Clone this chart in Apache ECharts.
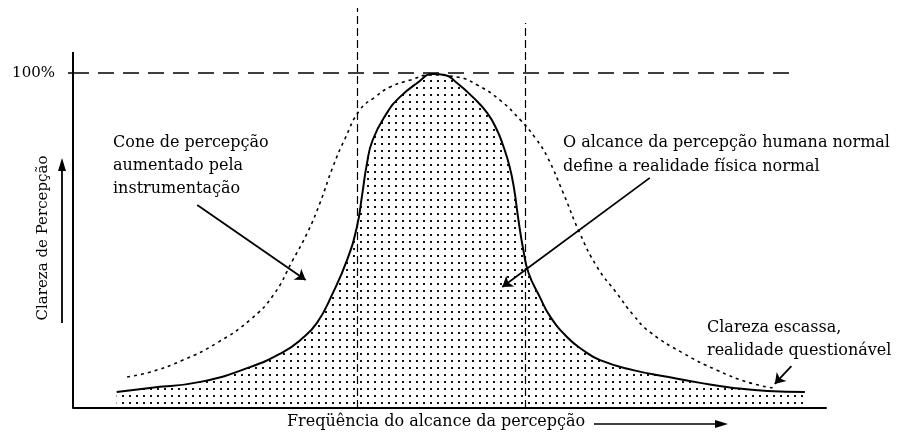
<!DOCTYPE html>
<html>
<head>
<meta charset="utf-8">
<script src="https://cdn.jsdelivr.net/npm/echarts@6/dist/echarts.min.js"></script>
<style>
html, body { margin: 0; padding: 0; background: #fff; }
#chart { width: 904px; height: 440px; }
</style>
</head>
<body>
<div id="chart"></div>
<script>
// curva sólida: alcance da percepção humana normal
const normalX = [5.8, 10.2, 16.9, 23.5, 27.9, 30.2, 32.4, 34.5, 36.4, 37.7, 38.4, 39.0, 39.8, 41.7, 43.4, 45.7, 47.8, 49.4, 51.0, 53.1,
    55.0, 56.3, 57.1, 58.0, 58.6, 59.1, 59.8, 60.5, 62.0, 63.4, 65.6, 67.7, 70.0, 74.4, 78.9, 83.3, 87.7, 92.2, 97.2];
const normalY = [4.8, 6.0, 7.8, 12.2, 16.7, 20.3, 25.4, 34.3, 44.2, 54.0, 63.6, 72.5, 80.0, 88.1, 92.8, 97.0, 99.7, 99.4, 97.0, 92.8,
    88.1, 83.0, 78.5, 71.9, 65.1, 57.0, 47.2, 40.3, 33.1, 27.2, 21.2, 17.3, 14.3, 11.3, 9.3, 7.5, 6.0, 5.1, 4.8];

// curva tracejada: cone aumentado pela instrumentação
const instrX = [7.2, 10.2, 14.6, 19.1, 23.5, 26.6, 29.2, 31.1, 32.8, 34.5, 36.1, 38.1, 40.1, 42.1, 44.8, 47.4, 51.0, 53.7, 56.7, 59.4,
    61.4, 63.0, 65.1, 67.3, 69.6, 72.2, 74.4, 76.6, 81.0, 85.5, 89.9, 93.0];
const instrY = [9.3, 10.7, 14.3, 19.4, 26.3, 33.7, 44.2, 52.2, 61.2, 71.9, 80.3, 89.0, 92.8, 95.8, 97.9, 99.4, 98.8, 96.4, 91.9, 86.0,
    80.6, 74.9, 64.2, 52.2, 42.1, 34.3, 27.8, 22.7, 16.4, 11.3, 7.5, 6.0];

// linhas de referência
const limitesX = [37.8, 60.0];
const limitesTopo = [119.4, 114.9];
const nivelMax = 100;
const nivelFimX = 95.2;
const eixoYTopo = 106.3;
const yLabels = [100];

// setas das anotações: [início, ponta]
const setas = [
    [[16.5, 60.6], [30.9, 38.2]],
    [[76.6, 68.7], [57.0, 36.1]],
    [[95.4, 12.5], [93.2, 7.2]]
];

const fonte = '"DejaVu Serif", serif';

function dotPattern() {
    let c = document.createElement('canvas');
    c.width = 7;
    c.height = 7;
    let ctx = c.getContext('2d');
    ctx.fillStyle = '#111';
    ctx.fillRect(3, 3, 2, 2);
    return c;
}

function pairs(xs, ys) {
    return xs.map(function (x, i) {
        return [x, ys[i]];
    });
}

let refLines = [];
limitesX.forEach(function (x, i) {
    refLines.push([{coord: [x, 0]}, {coord: [x, limitesTopo[i]]}]);
});

let chart = echarts.init(document.getElementById('chart'), null, {renderer: 'canvas'});

chart.setOption({
    animation: false,
    backgroundColor: '#fff',
    grid: {left: 73, right: 78, top: 6, bottom: 32, containLabel: false, outerBoundsMode: 'none'},
    xAxis: {
        type: 'value',
        min: 0,
        max: 100,
        axisLine: {show: true, lineStyle: {color: '#000', width: 2}},
        axisTick: {show: false},
        axisLabel: {show: false},
        splitLine: {show: false}
    },
    yAxis: {
        type: 'value',
        min: 0,
        max: 120,
        axisLine: {show: false},
        axisTick: {show: true, customValues: yLabels, length: 5, lineStyle: {color: '#000', width: 1.5}},
        axisLabel: {
            show: true,
            customValues: yLabels,
            margin: 18,
            color: '#000',
            fontFamily: fonte,
            fontSize: 15,
            formatter: function (v) {
                return v + '%';
            }
        },
        splitLine: {show: false}
    },
    series: [
        {
            name: 'realidade normal',
            type: 'line',
            data: pairs(normalX, normalY),
            smooth: 0.5,
            symbol: 'none',
            lineStyle: {color: '#000', width: 2},
            areaStyle: {color: {image: dotPattern(), repeat: 'repeat'}, opacity: 1},
            z: 3
        },
        {
            name: 'instrumentação',
            type: 'line',
            data: pairs(instrX, instrY),
            smooth: 0.5,
            symbol: 'none',
            lineStyle: {color: '#000', width: 1.6, type: [3, 4]},
            z: 4
        },
        {
            name: 'eixoY',
            type: 'line',
            data: [[0, 0], [0, eixoYTopo]],
            symbol: 'none',
            lineStyle: {color: '#000', width: 2},
            z: 5,
            markLine: {
                silent: true,
                symbol: 'none',
                label: {show: false},
                lineStyle: {color: '#000', width: 1.2, type: [8, 4]},
                data: refLines.concat([
                    [{coord: [0, nivelMax], lineStyle: {type: [16, 9], width: 1.5}}, {coord: [nivelFimX, nivelMax]}]
                ])
            }
        },
        {
            name: 'setas',
            type: 'line',
            data: [],
            markLine: {
                silent: true,
                symbol: ['none', 'arrow'],
                symbolSize: 10,
                label: {show: false},
                lineStyle: {color: '#000', width: 1.8, type: 'solid'},
                data: setas.map(function (s) {
                    return [{coord: s[0]}, {coord: s[1]}];
                })
            }
        }
    ],
    graphic: [
        {
            type: 'text', left: 113, top: 131,
            style: {text: 'Cone de percepção\naumentado pela\ninstrumentação', font: '16px ' + fonte, lineHeight: 23, fill: '#000'}
        },
        {
            type: 'text', left: 563, top: 131,
            style: {text: 'O alcance da percepção humana normal\ndefine a realidade física normal', font: '16px ' + fonte, lineHeight: 24, fill: '#000'}
        },
        {
            type: 'text', left: 707, top: 316,
            style: {text: 'Clareza escassa,\nrealidade questionável', font: '16px ' + fonte, lineHeight: 23, fill: '#000'}
        },
        {
            type: 'text', left: 287, top: 414,
            style: {text: 'Freqüência do alcance da percepção', font: '16px ' + fonte, fill: '#000'}
        },
        {
            type: 'line', shape: {x1: 594, y1: 424, x2: 718, y2: 424},
            style: {stroke: '#000', lineWidth: 1.5}
        },
        {
            type: 'polygon', shape: {points: [[728, 424], [715, 420], [715, 428]]},
            style: {fill: '#000'}
        },
        {
            type: 'text', x: 43, y: 238, rotation: Math.PI / 2,
            style: {text: 'Clareza de Percepção', font: '15px ' + fonte, fill: '#000', align: 'center', verticalAlign: 'middle'}
        },
        {
            type: 'line', shape: {x1: 62, y1: 323, x2: 62, y2: 168},
            style: {stroke: '#000', lineWidth: 1.8}
        },
        {
            type: 'polygon', shape: {points: [[62, 158], [58, 171], [66, 171]]},
            style: {fill: '#000'}
        }
    ]
});
</script>
</body>
</html>
